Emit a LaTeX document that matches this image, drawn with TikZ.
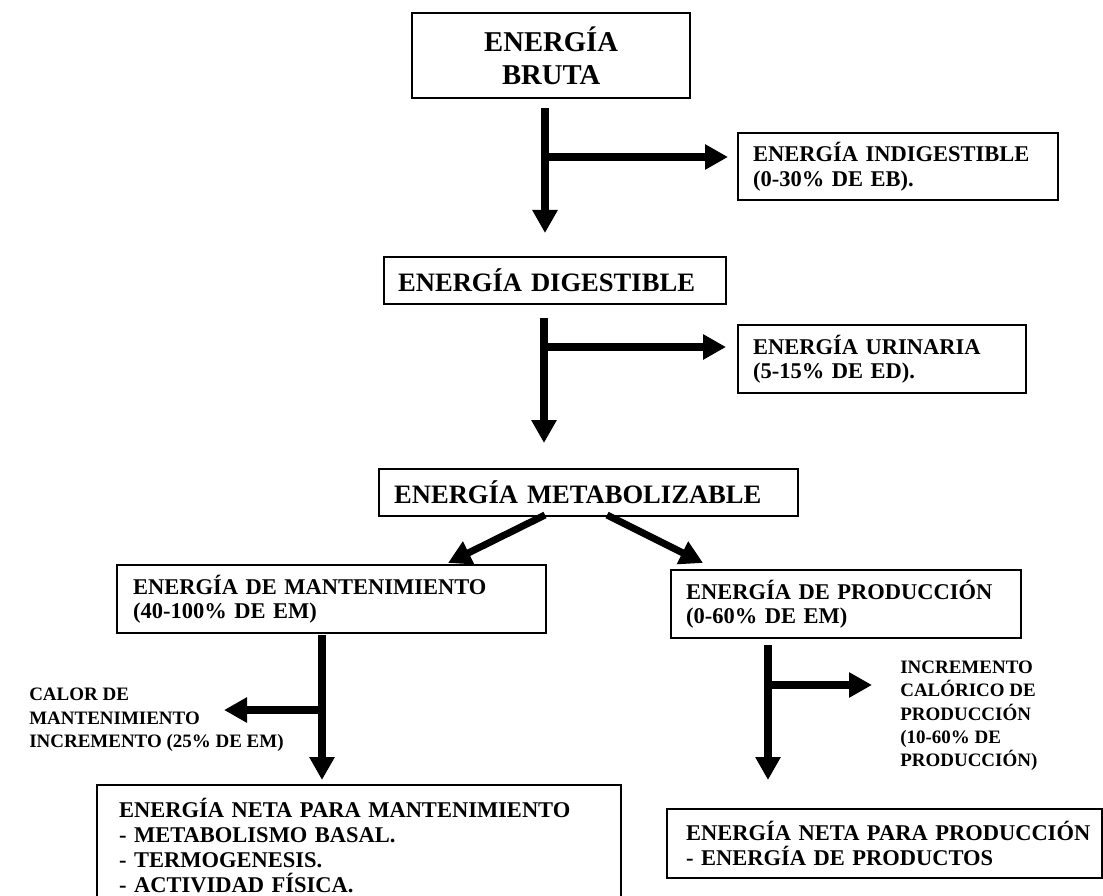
\documentclass[tikz,border=0pt]{standalone}
\usepackage{fontspec}
\setmainfont{Liberation Serif}
\usetikzlibrary{arrows.meta,positioning}

\tikzset{
  box/.style={draw, line width=1.6pt, anchor=north west, align=left, inner ysep=0pt,
    font=\bfseries\fontsize{16pt}{17.5pt}\selectfont},
  bigbox/.style={box, font=\bfseries\fontsize{18.9pt}{21pt}\selectfont},
  note/.style={inner sep=0pt, align=left, anchor=west,
    font=\bfseries\fontsize{13.5pt}{16.6pt}\selectfont},
  flow/.style={line width=5pt, -{Triangle[length=0.575cm,width=0.6cm]}}
}

\begin{document}
\begin{tikzpicture}[x=0.025cm, y=-0.025cm]
    \useasboundingbox (0,0) rectangle (1103,895);

    % main chain
    \node[box, align=center, inner xsep=0pt, minimum width=6.95cm, minimum height=2.125cm,
      font=\bfseries\fontsize{20.4pt}{23.5pt}\selectfont] (bruta) at (411,12) {ENERGÍA\\BRUTA};
    \node[bigbox, inner xsep=0.35cm, text width=7.85cm, minimum height=1.175cm] (digest) at (383,256) {ENERGÍA DIGESTIBLE};
    \node[bigbox, inner xsep=0.375cm, text width=9.725cm, minimum height=1.175cm] (metab) at (378,468) {ENERGÍA METABOLIZABLE};

    % losses on the right
    \node[box, inner xsep=0.375cm, text width=7.25cm, minimum height=1.675cm] (indig) at (737,132) {ENERGÍA INDIGESTIBLE\\(0-30\% DE EB).};
    \node[box, inner xsep=0.375cm, text width=6.45cm, minimum height=1.7cm] (urin) at (737,324) {ENERGÍA URINARIA\\(5-15\% DE ED).};

    % split of the metabolizable energy
    \node[box, inner xsep=0.4cm, text width=9.925cm, minimum height=1.7cm] (mant) at (116,564) {ENERGÍA DE MANTENIMIENTO\\(40-100\% DE EM)};
    \node[box, inner xsep=0.375cm, text width=8cm, minimum height=1.7cm] (prod) at (670,569) {ENERGÍA DE PRODUCCIÓN\\(0-60\% DE EM)};

    \node[note] (calor) at (29,720) {CALOR DE\\MANTENIMIENTO\\INCREMENTO (25\% DE EM)};
    \node[note] (incprod) at (900,716) {INCREMENTO\\CALÓRICO DE\\PRODUCCIÓN\\(10-60\% DE\\PRODUCCIÓN)};

    \node[box, inner xsep=0.55cm, text width=12cm, minimum height=3cm,
      font=\bfseries\fontsize{16pt}{17.8pt}\selectfont] (netmant) at (96,784)
      {ENERGÍA NETA PARA MANTENIMIENTO\\- METABOLISMO BASAL.\\- TERMOGENESIS.\\- ACTIVIDAD FÍSICA.};
    \node[box, inner xsep=0.475cm, text width=9.925cm, minimum height=1.725cm] (netprod) at (666,808)
      {\mbox{ENERGÍA NETA PARA PRODUCCIÓN}\\- ENERGÍA DE PRODUCTOS};

    % arrow end points
    \coordinate (eb0) at (545,108);
    \coordinate (eb1) at (545,233);
    \coordinate (ebj) at (545,157);
    \coordinate (ebs) at (728,157);
    \coordinate (ed0) at (544,318);
    \coordinate (ed1) at (544,443);
    \coordinate (edj) at (544,347);
    \coordinate (eds) at (726,347);
    \coordinate (emL) at (545,515);
    \coordinate (emM) at (448,563);
    \coordinate (emR) at (607,515);
    \coordinate (emP) at (703,563);
    \coordinate (mt0) at (322,635);
    \coordinate (mt1) at (322,780);
    \coordinate (mtj) at (322,710);
    \coordinate (mts) at (224,710);
    \coordinate (pr0) at (768,645);
    \coordinate (pr1) at (768,780);
    \coordinate (prj) at (768,685);
    \coordinate (prs) at (872,685);

    \draw[flow] (eb0) -- (eb1);
    \draw[flow] (ebj) -- (ebs);
    \draw[flow] (ed0) -- (ed1);
    \draw[flow] (edj) -- (eds);
    \draw[flow] (emL) -- (emM);
    \draw[flow] (emR) -- (emP);
    \draw[flow] (mt0) -- (mt1);
    \draw[flow] (mtj) -- (mts);
    \draw[flow] (pr0) -- (pr1);
    \draw[flow] (prj) -- (prs);
\end{tikzpicture}
\end{document}
